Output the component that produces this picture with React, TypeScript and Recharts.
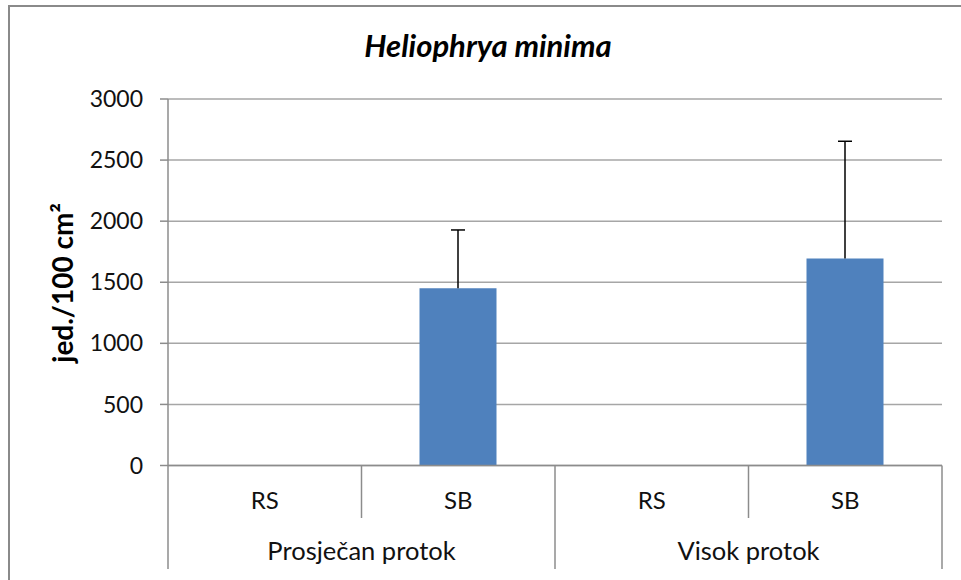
import { BarChart, Bar, XAxis, YAxis, CartesianGrid, Customized } from 'recharts';

const categories = ['RS', 'SB', 'RS', 'SB'];
const groups = ['Prosječan protok', 'Prosječan protok', 'Visok protok', 'Visok protok'];
const means = [0, 1450, 0, 1695];
const plusErrors = [0, 478, 0, 959];
const yTicks = [0, 500, 1000, 1500, 2000, 2500, 3000];

const data = categories.map((c, i) => ({
  cat: `${c}-${i}`,
  label: c,
  group: groups[i],
  mean: means[i],
  err: plusErrors[i],
}));

const W = 961;
const H = 580;
const LEFT = 168;
const RIGHT = 19;
const BAND = (W - LEFT - RIGHT) / categories.length;
const FONT = 'Lato, "Open Sans", sans-serif';
const AXIS = '#8c8c8c';
const GRID = '#a6a6a6';

const CatTick = (props: any) => {
  const { x, y, index, payload } = props;
  const groupEnd = index % 2 === 1;
  return (
    <g>
      <text x={x} y={y + 43} textAnchor="middle" fontSize={24} fontFamily={FONT} fill="#111">
        {data[index] ? data[index].label : payload.value}
      </text>
      <line x1={x + BAND / 2} y1={y} x2={x + BAND / 2} y2={y + (groupEnd ? 103.5 : 52.5)} stroke={AXIS} strokeWidth={1.5} />
      {index === 0 && (
        <line x1={x - BAND / 2} y1={y} x2={x - BAND / 2} y2={y + 103.5} stroke={AXIS} strokeWidth={1.5} />
      )}
    </g>
  );
};

const GroupTick = (props: any) => {
  const { x, y, payload } = props;
  return (
    <text x={x} y={y + 36} textAnchor="middle" fontSize={25.5} fontFamily={FONT} fill="#111">
      {payload.value}
    </text>
  );
};

const ErrorShape = (props: any) => {
  const { x, y, width, height } = props;
  if (!height || height <= 0) return null;
  const cx = x + width / 2;
  return (
    <g>
      <line x1={cx} y1={y} x2={cx} y2={y + height} stroke="#000" strokeWidth={1.5} />
      <line x1={cx - 7} y1={y} x2={cx + 7} y2={y} stroke="#000" strokeWidth={1.5} />
    </g>
  );
};

const Title = () => (
  <text x={488} y={57} textAnchor="middle" fontSize={31} fontWeight="bold" fontStyle="italic" fontFamily={FONT} fill="#000">
    Heliophrya minima
  </text>
);

const YLabel = () => (
  <text
    x={62}
    y={283}
    transform="rotate(-90, 62, 283)"
    textAnchor="middle"
    dominantBaseline="central"
    fontSize={28}
    fontWeight="bold"
    fontFamily={FONT}
    fill="#000"
  >
    jed./100 cm²
  </text>
);

export default function App() {
  return (
    <div style={{ position: 'absolute', left: 0, top: 0, width: W, height: H, background: '#fff' }}>
      <div
        style={{
          position: 'absolute',
          left: 8,
          top: 5,
          width: W - 8,
          height: H - 5,
          borderTop: '2px solid #8a8a8a',
          borderLeft: '2px solid #8a8a8a',
          boxSizing: 'border-box',
        }}
      />
      <div style={{ position: 'absolute', left: 0, top: 0 }}>
        <BarChart width={W} height={H} data={data} margin={{ top: 99, right: RIGHT, bottom: 0, left: 8 }}>
          <CartesianGrid vertical={false} stroke={GRID} strokeWidth={1.5} />
          <XAxis
            dataKey="cat"
            height={58}
            axisLine={{ stroke: AXIS, strokeWidth: 1.5 }}
            tickLine={false}
            tickSize={0}
            tickMargin={0}
            interval={0}
            tick={<CatTick />}
          />
          <XAxis
            xAxisId="group"
            dataKey="group"
            allowDuplicatedCategory={false}
            height={56.5}
            axisLine={false}
            tickLine={false}
            tickSize={0}
            tickMargin={0}
            interval={0}
            tick={<GroupTick />}
          />
          <YAxis
            width={160}
            domain={[0, 3000]}
            ticks={yTicks}
            interval={0}
            axisLine={{ stroke: AXIS, strokeWidth: 1.5 }}
            tickLine={{ stroke: AXIS, strokeWidth: 1.5 }}
            tickSize={8}
            tickMargin={17}
            tick={{ fontSize: 23, fontFamily: FONT, fill: '#111' }}
          />
          <Bar dataKey="mean" stackId="s" fill="#4f81bd" barSize={77} isAnimationActive={false} />
          <Bar dataKey="err" stackId="s" fill="none" barSize={77} shape={<ErrorShape />} isAnimationActive={false} />
          <Customized component={<Title />} />
          <Customized component={<YLabel />} />
        </BarChart>
      </div>
    </div>
  );
}
